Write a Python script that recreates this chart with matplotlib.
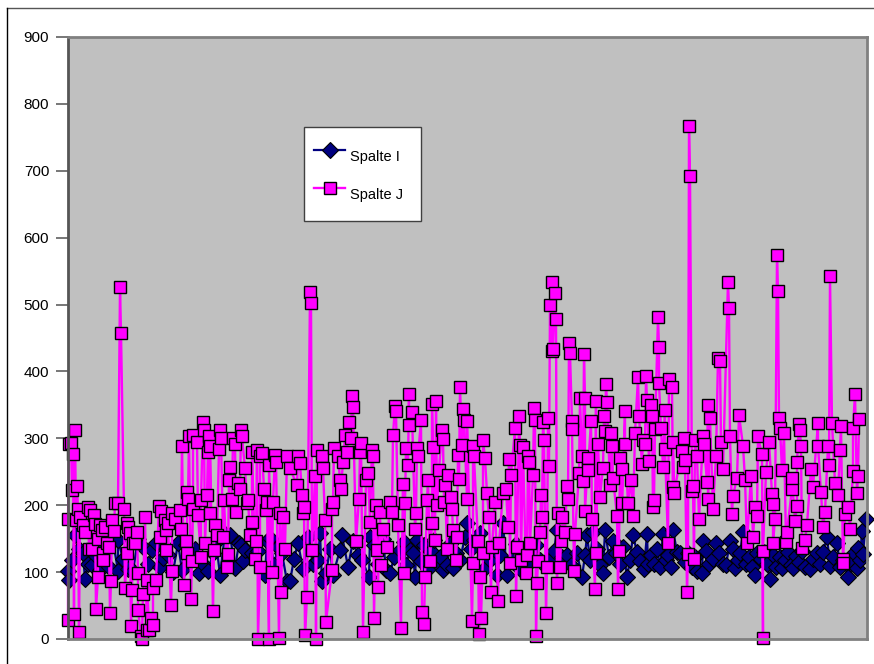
"""Line chart of two spreadsheet columns, Spalte I and Spalte J."""

import matplotlib

matplotlib.use("Agg")

import matplotlib.pyplot as plt  # noqa: E402
import numpy as np  # noqa: E402
from matplotlib.lines import Line2D  # noqa: E402
from matplotlib.patches import Rectangle  # noqa: E402

WIDTH, HEIGHT = 874, 664

y_ticks = [0, 100, 200, 300, 400, 500, 600, 700, 800, 900]

spalte_i_rows = [
    0, 1, 7, 17, 20, 15, 32, 50, 50, 65, 75, 84, 92, 95, 110, 114, 131, 140, 152, 157,
    162, 167, 171, 173, 177, 184, 175, 199, 197, 202, 219, 214,
    222, 230, 252, 254, 250, 274, 265, 272, 294, 301, 302, 322, 332, 342, 349, 347, 369, 375,
    385, 399, 397, 412, 439, 435, 422, 429, 482, 489, 499, 509,
    514, 519, 525, 537, 535, 545, 559, 565, 579, 580, 592, 572, 605, 595, 600, 612, 629, 634,
    635, 648, 655, 662, 667, 675, 687, 702, 689, 712, 714, 725, 742, 749, 759, 762, 769, 780,
    789, 790, 795, 798, 794,
    4, 11, 24, 28, 37, 41, 45, 55, 60, 70, 80, 88, 100, 105, 118, 122, 127, 135, 145, 148,
    190, 206, 210, 226, 235, 240, 245, 258, 262, 280, 285, 290, 306, 310, 315, 318, 326, 336, 338, 345,
    353, 356, 360, 363, 366, 372, 379, 382, 388, 392, 403, 406, 416, 426, 432, 444, 448, 452, 456, 460,
    464, 468, 472, 476, 486, 494, 503, 517, 522, 529, 532, 541, 548, 552, 555, 562, 569, 576, 583, 586,
    589, 598, 603, 609, 617, 620, 624, 627, 638, 641, 645, 651, 658, 665, 670, 672, 678, 681, 684, 693,
    696, 699, 705, 708, 717, 720, 723, 728, 731, 734, 737, 745, 752, 755, 765, 772, 775, 783, 786, 792,
]
spalte_i_values = [
    102, 88, 155, 89, 112, 128, 103, 102, 148, 101, 138, 133, 108, 121, 143, 103, 99, 101, 96, 157,
    155, 106, 143, 141, 133, 128, 116, 146, 96, 151, 86, 128,
    86, 143, 158, 86, 118, 155, 96, 133, 118, 93, 153, 98, 133, 133, 148, 93, 113, 103,
    106, 173, 153, 158, 96, 173, 118, 96, 118, 163, 126, 128,
    93, 155, 160, 163, 98, 147, 93, 155, 157, 112, 107, 117, 163, 157, 125, 128, 101, 98,
    147, 143, 112, 147, 106, 160, 95, 89, 128, 122, 106, 106, 104, 128, 152, 109, 144, 93,
    106, 136, 127, 180, 162,
    118, 135, 110, 124, 140, 107, 146, 120, 105, 150, 112, 143, 125, 100, 140, 118, 134, 112, 128, 145,
    132, 110, 138, 120, 105, 152, 112, 98, 135, 108, 146, 125, 140, 112, 150, 103, 122, 145, 110, 128,
    116, 140, 105, 132, 148, 122, 110, 142, 128, 118, 135, 148, 105, 140, 125, 118, 142, 104, 135, 112,
    128, 140, 118, 110, 132, 122, 110, 125, 118, 135, 110, 122, 128, 112, 138, 118, 130, 105, 125, 112,
    135, 118, 108, 130, 115, 128, 108, 122, 132, 112, 120, 128, 110, 135, 118, 128, 112, 122, 108, 120,
    130, 112, 125, 108, 118, 130, 110, 124, 115, 132, 108, 120, 112, 130, 122, 108, 118, 112, 128, 118,
]

spalte_j_rows = [
    0, 1, 3, 5, 4, 0, 6, 7, 11, 9,
    10, 8, 12, 15, 17, 20, 22, 21, 26, 27,
    24, 30, 28, 32, 34, 30, 37, 35, 35, 39,
    41, 43, 42, 44, 46, 47, 50, 52, 53, 56,
    57, 59, 59, 60, 64, 62, 65, 67, 69, 63,
    70, 70, 73, 74, 75, 77, 79, 79, 81, 83,
    85, 85, 88, 91, 93, 92, 97, 98, 98, 100,
    103, 104, 104, 107, 112, 113, 114, 116, 119, 119,
    120, 118, 121, 123, 124, 125, 125, 129, 130, 133,
    133, 135, 136, 137, 139, 140, 141, 142, 142, 145,
    146, 147, 149, 151, 152, 153, 155, 156, 159, 160,
    162, 161, 164, 165, 167, 168, 170, 172, 173, 174,
    177, 179, 180, 184, 182, 184, 188, 187, 189, 190,
    192, 192, 194, 196, 199, 198, 201, 201, 204, 205,
    207, 208, 211, 213, 212, 215, 217, 219, 222,
    230, 229, 234, 236, 235, 232, 242, 243, 249, 247,
    237, 239, 244, 254, 255, 248, 257, 258, 264, 265,
    264, 266, 270, 272, 273, 275, 277, 279, 283, 281,
    284, 285, 288, 291, 292, 293, 295, 298, 300, 302,
    304, 305, 306, 308, 310, 309, 313, 312, 315, 319,
    322, 324, 325, 327, 328, 330, 333, 335, 336, 337,
    338, 340, 341, 341, 344, 347, 348, 349, 350, 353,
    354, 356, 357, 360, 359, 362, 364, 365, 364, 368,
    367, 369, 371, 374, 375, 376, 377, 379, 380, 383,
    384, 385, 388, 389, 391, 392, 390, 395, 396, 399,
    399, 394, 404, 405, 405, 406, 410, 411, 412, 413,
    415, 415, 417, 419, 421, 423, 424, 427, 430, 431,
    435, 438, 440, 441, 443, 442, 447, 448, 451, 449,
    452, 453, 455, 458, 459, 460, 461, 462, 465, 466,
    467, 468, 469, 470, 472, 473, 474, 475, 476, 478,
    479, 480, 481, 482, 484, 485, 484, 487, 488, 489,
    490, 492, 494, 493, 497, 499, 500, 501, 502, 504,
    504, 506, 507, 511, 512,
    516, 517, 514, 520, 520, 515, 517, 524, 528, 523,
    528, 527, 530, 532, 535, 536, 537, 538, 539, 542,
    543, 544, 545, 550, 551, 552, 554, 554, 549, 557,
    557, 560, 563, 565, 567, 570, 571, 574, 575, 578,
    577, 579, 581, 583, 584, 585, 586, 587, 590, 591,
    591, 593, 595, 597, 597, 600, 601, 604, 606, 605,
    605, 614, 615, 617, 616, 619, 620, 621, 622, 624,
    625, 626, 627, 629, 631, 635, 636, 639, 640, 642,
    640, 645, 648, 650, 652, 653, 655, 660, 661, 662,
    664, 665, 669, 671, 675, 677, 679, 683, 685, 687,
    689, 690, 694, 695, 695, 698, 701, 704, 705, 707,
    705, 709, 710, 711, 712, 714, 716, 718, 719, 724,
    724, 727, 729, 729, 731, 732, 734, 733, 737, 739,
    743, 745, 750, 750, 753, 755, 757, 760, 762, 764,
    761, 767, 770, 772, 773, 775, 775, 777, 780, 782,
    785, 785, 787, 789, 790, 791,
]
spalte_j_values = [
    28, 291, 293, 277, 223, 180, 37, 313, 11, 229,
    195, 178, 183, 170, 160, 198, 193, 135, 185, 172,
    135, 93, 45, 170, 163, 150, 168, 128, 118, 143,
    138, 86, 39, 178, 162, 204, 203, 526, 458, 195,
    76, 129, 173, 168, 74, 158, 143, 144, 160, 20,
    98, 43, 5, 0, 68, 183, 14, 88, 13, 31,
    21, 76, 88, 199, 192, 153, 178, 163, 133, 173,
    51, 101, 188, 180, 193, 165, 289, 81, 128, 220,
    210, 146, 303, 60, 116, 195, 305, 295, 185, 122,
    208, 325, 312, 144, 215, 280, 303, 189, 288, 42,
    133, 170, 155, 284, 313, 301, 153, 208, 108, 127,
    257, 238, 210, 300, 291, 190, 233, 225, 312, 303,
    255, 203, 208, 175, 155, 279, 146, 120, 283, 0,
    108, 273, 278, 225, 205, 193, 0, 260, 100, 205,
    275, 265, 2, 70, 188, 183, 135, 273, 255,
    273, 230, 215, 198, 188, 263, 519, 503, 283, 243,
    6, 63, 133, 273, 256, 0, 178, 26, 103, 205,
    195, 285, 273, 238, 225, 265, 305, 279, 300, 325,
    363, 347, 146, 210, 280, 293, 11, 238, 248, 175,
    283, 273, 32, 200, 78, 133, 111, 190, 165, 137,
    205, 190, 305, 348, 341, 170, 17, 232, 99, 203,
    285, 260, 367, 320, 340, 165, 189, 285, 273, 327,
    40, 22, 92, 238, 208, 116, 173, 287, 352, 356,
    148, 200, 253, 313, 299, 205, 230, 135, 245, 212,
    195, 163, 118, 153, 239, 376, 275, 344, 327, 210,
    326, 290, 27, 113, 288, 273, 146, 7, 93, 31,
    128, 298, 270, 218, 183, 71, 138, 205, 57, 143,
    218, 224, 168, 269, 245, 113, 315, 65, 334, 138,
    290, 118, 287, 98, 126, 273, 265, 143, 245, 346,
    328, 5, 84, 116, 160, 215, 183, 325, 297, 39,
    107, 330, 259, 500, 431, 433, 533, 517, 479, 84,
    188, 107, 183, 146, 160, 228, 209, 443, 427, 326,
    314, 101, 157, 248, 360,
    426, 361, 273, 271, 253, 236, 192, 179, 356, 326,
    128, 75, 292, 213, 256, 333, 311, 381, 355, 230,
    308, 288, 241, 75, 132, 271, 254, 203, 184, 341,
    292, 203, 238, 184, 308, 391, 333, 262, 298, 393,
    292, 357, 266, 350, 334, 198, 208, 314, 481, 437,
    382, 315, 257, 343, 284, 143, 389, 376, 219, 227,
    295, 281, 257, 268, 301, 71, 127, 767, 692, 222,
    229, 119, 298, 273, 179, 303, 291, 234, 350, 330,
    209, 195, 273, 420, 415, 294, 254, 534, 495, 303,
    187, 214, 241, 335, 289, 238, 143, 244, 152, 198,
    184, 303, 276, 1, 132, 250, 295, 217, 202, 180,
    143, 574, 521, 330, 316, 252, 308, 145, 160, 225,
    241, 177, 199, 265, 322, 312, 136, 288, 148, 171,
    254, 227, 323, 289, 220, 168, 190, 289, 542, 323,
    260, 233, 216, 283, 319, 120, 114, 187, 198, 165,
    251, 316, 366, 218, 244, 329,
]


def to_fig(x_px, y_px):
    """Convert reference pixel positions to figure fractions."""
    return x_px / WIDTH, 1 - y_px / HEIGHT


def plot_series(axis, rows, values, **style):
    order = np.argsort(rows, kind="stable")
    axis.plot(np.array(rows)[order], np.array(values)[order], clip_on=False, **style)


I_STYLE = dict(color="#000080", linewidth=1.6, marker="D", markersize=8.2,
               markerfacecolor="#000080", markeredgecolor="black", markeredgewidth=0.8)
J_STYLE = dict(color="#FF00FF", linewidth=1.7, marker="s", markersize=9.2,
               markerfacecolor="#FF00FF", markeredgecolor="black", markeredgewidth=1.0)

plt.rcParams["font.family"] = ["Liberation Sans", "DejaVu Sans"]

figure = plt.figure(figsize=(WIDTH / 100, HEIGHT / 100), dpi=100)
left, bottom = to_fig(68, 639)
right, top = to_fig(867, 37)
axis = figure.add_axes([left, bottom, right - left, top - bottom])
axis.set_facecolor("#C0C0C0")

plot_series(axis, spalte_i_rows, spalte_i_values, **I_STYLE)
plot_series(axis, spalte_j_rows, spalte_j_values, **J_STYLE)

axis.set_xlim(0, 799)
axis.set_ylim(0, 900)
axis.set_xticks([])
axis.set_yticks(y_ticks)
axis.tick_params(axis="y", length=8.5, width=1.2, color="#606060", pad=5, labelsize=11,
                 labelcolor="black")
for name, spine in axis.spines.items():
    spine.set_color("#555555" if name == "left" else "#808080")
    spine.set_linewidth(2.0)

# outer chart frame, cut off at the right and bottom of the image
x0, y0 = to_fig(6.5, 7.5)
figure.add_artist(Line2D([x0, 1], [y0, y0], color="#555555", linewidth=1.0))
figure.add_artist(Line2D([x0, x0], [0, y0], color="black", linewidth=1.0))

# legend box, placed by hand since its text sits lower than its symbols
box_x, box_y = to_fig(304, 221)
box_x2, box_y2 = to_fig(421, 127)
figure.add_artist(Rectangle((box_x, box_y), box_x2 - box_x, box_y2 - box_y, facecolor="white",
                            edgecolor="#404040", linewidth=1.0, zorder=5,
                            transform=figure.transFigure))
for label, style, line_y, text_y in (("Spalte I", I_STYLE, 150, 157), ("Spalte J", J_STYLE, 188, 195)):
    xs, ys = zip(to_fig(314, line_y), to_fig(345, line_y))
    handle_style = dict(style, xdata=xs, ydata=ys, zorder=6, transform=figure.transFigure)
    figure.add_artist(Line2D(**{**handle_style, "marker": "None"}))
    mid_x, mid_y = to_fig(330, line_y)
    figure.add_artist(Line2D(**{**handle_style, "xdata": [mid_x], "ydata": [mid_y]}))
    text_x, text_yf = to_fig(350, text_y)
    figure.text(text_x, text_yf, label, fontsize=10.5, va="center", ha="left", zorder=6)

figure.savefig("out.png", dpi=100)
plt.close(figure)
